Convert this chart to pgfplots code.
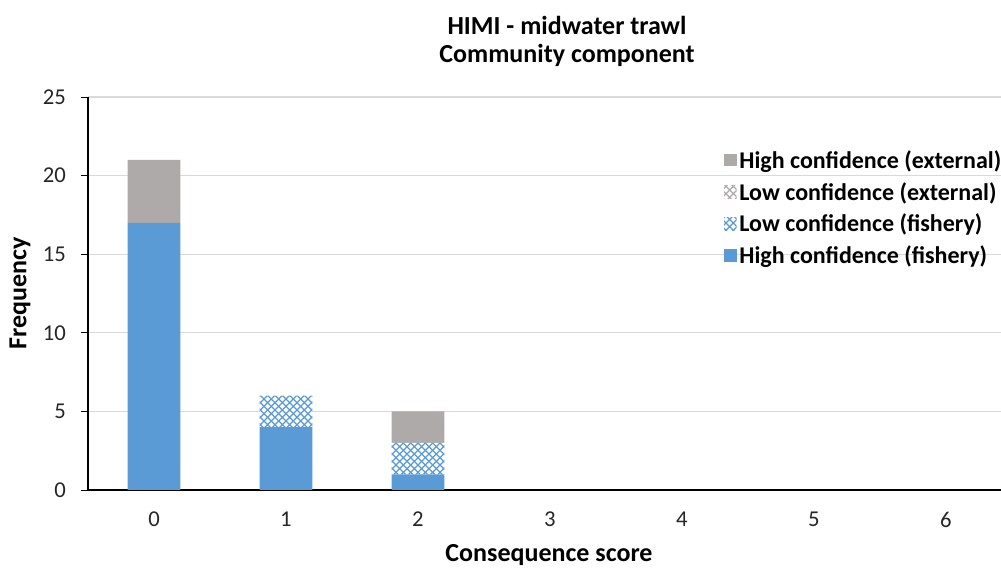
\documentclass[border=0pt]{standalone}
\usepackage{fontspec}
\setmainfont{Carlito}
\usepackage{pgfplots}
\pgfplotsset{compat=1.18}
\usetikzlibrary{patterns}
\definecolor{hfblue}{HTML}{5B9BD5}
\definecolor{hegray}{HTML}{AEAAAA}
\definecolor{gridgray}{HTML}{D9D9D9}
\pgfdeclarepatternformonly{xdiamond}{\pgfqpoint{-0.5pt}{-0.5pt}}{\pgfqpoint{6pt}{6pt}}{\pgfqpoint{5.5pt}{5.5pt}}{%
  \pgfsetlinewidth{0.9pt}%
  \pgfpathmoveto{\pgfqpoint{0pt}{0pt}}\pgfpathlineto{\pgfqpoint{5.5pt}{5.5pt}}%
  \pgfpathmoveto{\pgfqpoint{0pt}{5.5pt}}\pgfpathlineto{\pgfqpoint{5.5pt}{0pt}}%
  \pgfusepath{stroke}%
}
\begin{document}
\begin{tikzpicture}
\useasboundingbox (0,0) rectangle (750.75pt,431.25pt);
\begin{axis}[
  at={(66pt,63.75pt)}, anchor=south west,
  scale only axis, width=684.75pt, height=294.75pt,
  xmin=-0.5, xmax=6.417, ymin=0, ymax=25,
  ybar stacked, bar width=0.4,
  xtick={0,1,2,3,4,5,6},
  ytick={0,5,10,15,20,25},
  axis x line*=bottom, axis y line*=left,
  axis line style={-, black, line width=0.8pt},
  xtick style={draw=none},
  ytick style={black, line width=0.6pt},
  tick align=outside, major tick length=5pt,
  ymajorgrids, grid style={gridgray, line width=0.8pt},
  /pgf/number format/assume math mode=true,
  ticklabel style={font=\fontsize{17}{20}\selectfont, text=black!85},
  yticklabel style={xshift=-8pt},
  xticklabel style={yshift=-8pt},
  legend style={at={(0.692,0.878)}, anchor=north west, draw=none, fill=none,
    font=\fontsize{18}{21}\selectfont\bfseries, row sep=5pt,
    cells={anchor=west}},
  legend cell align=left,
  reverse legend,
  legend image code/.code={\draw[#1,draw=none] (-1.5pt,-4.5pt) rectangle (8pt,5pt);},
]
\addplot[fill=hfblue, draw=none] coordinates {(0,17) (1,4) (2,1) (3,0) (4,0) (5,0) (6,0)};
\addlegendentry{High confidence (fishery)}
\addplot[draw=none, fill=white, postaction={pattern=xdiamond, pattern color=hfblue}] coordinates {(0,0) (1,2) (2,2) (3,0) (4,0) (5,0) (6,0)};
\addlegendentry{Low confidence (fishery)}
\addplot[draw=none, fill=white, postaction={pattern=xdiamond, pattern color=hegray}] coordinates {(0,0) (1,0) (2,0) (3,0) (4,0) (5,0) (6,0)};
\addlegendentry{Low confidence (external)}
\addplot[fill=hegray, draw=none] coordinates {(0,4) (1,0) (2,2) (3,0) (4,0) (5,0) (6,0)};
\addlegendentry{High confidence (external)}
\end{axis}
\node[font=\fontsize{19.5}{23}\selectfont\bfseries] at (425.25pt,412pt) {HIMI - midwater trawl};
\node[font=\fontsize{19.5}{23}\selectfont\bfseries] at (425.25pt,389.5pt) {Community component};
\node[font=\fontsize{19.5}{23}\selectfont\bfseries, rotate=90] at (15pt,211.5pt) {Frequency};
\node[font=\fontsize{19.5}{23}\selectfont\bfseries] at (411.75pt,15pt) {Consequence score};
\end{tikzpicture}
\end{document}
